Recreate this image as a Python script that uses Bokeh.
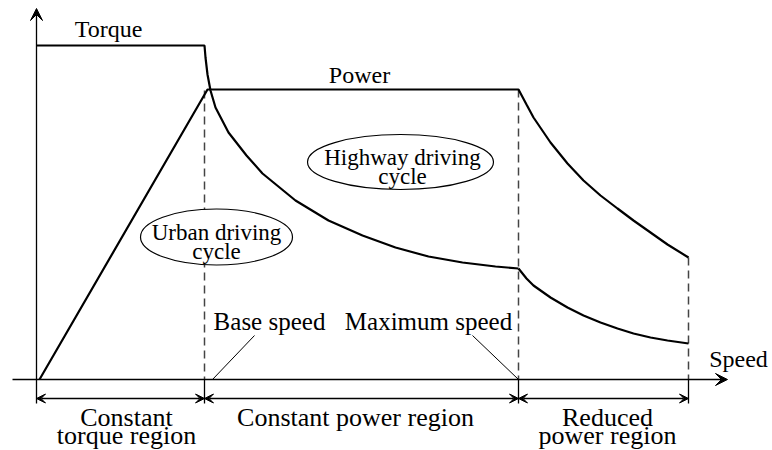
from bokeh.plotting import figure
from bokeh.models import Range1d, Arrow, VeeHead
from bokeh.embed import file_html
from bokeh.resources import INLINE
from bokeh.core.properties import value

# ---- data (schematic units: speed to the right, torque/power upward) ----
base_speed = 168
max_speed = 482
end_speed = 652

torque_speed = [0, 168, 169, 171, 174, 179, 192, 210, 226, 259, 292, 326, 359, 392, 426, 459, 482]
torque_value = [334, 334, 322, 305, 289, 272, 247, 224, 206, 179, 159, 144, 132, 123, 117, 113, 111]

reduced_torque_speed = [482, 490, 497, 514, 531, 547, 564, 581, 597, 614, 631, 652]
reduced_torque_value = [111, 101, 94, 82, 72, 64, 57, 51, 46, 42, 39, 36]

power_speed = [3, 171, 482, 490, 497, 514, 531, 547, 564, 581, 597, 614, 631, 652]
power_value = [0, 290, 290, 275, 262, 237, 216, 199, 184, 171, 159, 147, 135, 122]

region_names = [["Constant", "torque region"], ["Constant power region"], ["Reduced", "power region"]]
region_bounds = [(0, base_speed), (base_speed, max_speed), (max_speed, end_speed)]

FONT = value("Liberation Serif")

p = figure(width=772, height=450, output_backend="svg", toolbar_location=None,
           x_range=Range1d(-36, 736), y_range=Range1d(-71, 379),
           x_axis_type=None, y_axis_type=None, min_border=0)
p.grid.visible = False
p.outline_line_color = None
p.background_fill_color = "white"

# axes (arrows)
p.add_layout(Arrow(end=VeeHead(size=12, fill_color="black", line_color="black", line_width=1),
                   x_start=-24, y_start=0, x_end=691, y_end=0, line_width=1.3, line_color="black"))
p.add_layout(Arrow(end=VeeHead(size=12, fill_color="black", line_color="black", line_width=1),
                   x_start=0, y_start=-24, x_end=0, y_end=371, line_width=1.3, line_color="black"))

# extension lines below the axis
for s in [base_speed, max_speed, end_speed]:
    p.line([s, s], [0, -24], line_color="black", line_width=1.3)

# dashed guides
p.line([base_speed, base_speed], [289, 0], line_color="#444444", line_width=1.5, line_dash="8 5")
p.line([max_speed, max_speed], [290, 0], line_color="#444444", line_width=1.5, line_dash="8 5")
p.line([end_speed, end_speed], [power_value[-1], 0], line_color="#444444", line_width=1.5, line_dash="8 5")

# curves
p.line(torque_speed, torque_value, line_color="black", line_width=2.2)
p.line(reduced_torque_speed, reduced_torque_value, line_color="black", line_width=2.2)
p.line(power_speed, power_value, line_color="black", line_width=2.2)

# region brackets
for (a, b) in region_bounds:
    p.add_layout(Arrow(start=VeeHead(size=9, fill_color="black", line_color="black", line_width=1),
                       end=VeeHead(size=9, fill_color="black", line_color="black", line_width=1),
                       x_start=a, y_start=-19, x_end=b, y_end=-19, line_width=1.3, line_color="black"))

# leader lines
p.line([176, 218], [0, 44], line_color="black", line_width=1)
p.line([436, 482], [44, 0], line_color="black", line_width=1)

# ellipses
p.ellipse(x=[180], y=[142.5], width=152, height=56, fill_color="white", line_color="black", line_width=1.2)
p.ellipse(x=[364], y=[217.5], width=186, height=55, fill_color="white", line_color="black", line_width=1.2)

def txt(x, y, s, size="24px"):
    p.text(x=[x], y=[y], text=[s], text_font=FONT, text_font_size=size,
           text_align="center", text_baseline="middle", text_color="black")

txt(72, 351, "Torque")
txt(323, 305, "Power")
txt(366, 222, "Highway driving", "23px")
txt(366, 203, "cycle", "23px")
txt(180, 147, "Urban driving", "23px")
txt(180, 128, "cycle", "23px")
txt(233, 58, "Base speed", "25px")
txt(392, 58, "Maximum speed", "25px")
txt(702, 21, "Speed")

label_x = [90, 319, 571]
for c, names in zip(label_x, region_names):
    if len(names) == 1:
        txt(c, -38, names[0], "26px")
    else:
        txt(c, -38, names[0], "26px")
        txt(c, -56, names[1], "26px")

open("out.html", "w").write(file_html(p, INLINE))
